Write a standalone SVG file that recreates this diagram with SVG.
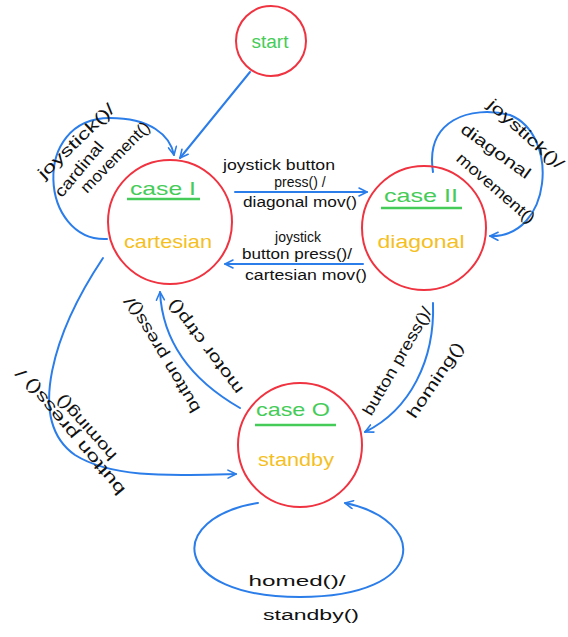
<svg xmlns="http://www.w3.org/2000/svg" width="568" height="637" viewBox="0 0 568 637">
<style>
.node{fill:none;stroke:#ef3340;stroke-width:2}
.edge{fill:none;stroke:#2b7de9;stroke-width:2;stroke-linecap:round}
.title{fill:#45cc58;font-family:"Liberation Sans",Arial,sans-serif;font-size:19px;text-anchor:middle}
.sub{fill:#f5bf1f;font-family:"Liberation Sans",Arial,sans-serif;font-size:19px;text-anchor:middle}
.ul{stroke:#45cc58;stroke-width:2.5}
.lbl{fill:#111;font-family:"Liberation Sans",Arial,sans-serif;font-size:14px;text-anchor:middle}
.big{font-size:16px}
</style>
<defs>
<marker id="arr" viewBox="0 0 10 10" refX="9" refY="5" markerWidth="10" markerHeight="10" markerUnits="userSpaceOnUse" orient="auto">
<path d="M1,1 L9,5 L1,9" fill="none" stroke="#2b7de9" stroke-width="1.6" stroke-linecap="round" stroke-linejoin="round"/>
</marker>
</defs>
<rect width="568" height="637" fill="#fff"/>
<g id="connectors">
<path class="edge" d="M250,72 L180,158" marker-end="url(#arr)"/>
<path class="edge" d="M107,239 C40,242 30,118 110,118 C150,118 170,135 174,155" marker-end="url(#arr)"/>
<path class="edge" d="M433,172 C425,120 470,105 510,115 C560,135 552,238 490,236" marker-end="url(#arr)"/>
<path class="edge" d="M235,192 L367,192" marker-end="url(#arr)"/>
<path class="edge" d="M363,264 L225,264" marker-end="url(#arr)"/>
<path class="edge" d="M433,303 C435,360 410,410 365,432" marker-end="url(#arr)"/>
<path class="edge" d="M240,408 C200,385 163,350 160,292" marker-end="url(#arr)"/>
<path class="edge" d="M103,258 C55,330 25,420 75,455 C115,480 180,475 236,474" marker-end="url(#arr)"/>
<path class="edge" d="M258,503 C165,518 170,597 300,597 C430,597 428,520 345,503" marker-end="url(#arr)"/>
</g>
<g id="edge-labels">
<text class="lbl" x="279" y="170" textLength="112" lengthAdjust="spacingAndGlyphs">joystick button</text>
<text class="lbl" x="300" y="187">press() /</text>
<text class="lbl" x="300" y="207" textLength="114" lengthAdjust="spacingAndGlyphs">diagonal mov()</text>
<text class="lbl" x="298" y="242">joystick</text>
<text class="lbl" x="297" y="259" textLength="110" lengthAdjust="spacingAndGlyphs">button press()/</text>
<text class="lbl" x="306" y="280" textLength="122" lengthAdjust="spacingAndGlyphs">cartesian mov()</text>
<text class="lbl big" transform="translate(76,141) rotate(-44)" dy="0.35em" textLength="100" lengthAdjust="spacingAndGlyphs">joystick()/</text>
<text class="lbl big" transform="translate(79,169) rotate(-50)" dy="0.35em" textLength="67" lengthAdjust="spacingAndGlyphs">cardinal</text>
<text class="lbl big" transform="translate(115,157) rotate(-46)" dy="0.35em" textLength="92" lengthAdjust="spacingAndGlyphs">movement()</text>
<text class="lbl big" transform="translate(526,134) rotate(42)" dy="0.35em" textLength="96" lengthAdjust="spacingAndGlyphs">joystick()/</text>
<text class="lbl big" transform="translate(496,151) rotate(36)" dy="0.35em" textLength="82" lengthAdjust="spacingAndGlyphs">diagonal</text>
<text class="lbl big" transform="translate(496,188) rotate(41)" dy="0.35em" textLength="98" lengthAdjust="spacingAndGlyphs">movement()</text>
<text class="lbl big" transform="translate(397,361) rotate(-60)" dy="0.35em" textLength="122" lengthAdjust="spacingAndGlyphs">button press()/</text>
<text class="lbl big" transform="translate(435,380) rotate(-56)" dy="0.35em" textLength="88" lengthAdjust="spacingAndGlyphs">homing()</text>
<text class="lbl big" transform="translate(205,347) rotate(-127)" dy="0.35em" textLength="114" lengthAdjust="spacingAndGlyphs">motor ctrp()</text>
<text class="lbl big" transform="translate(162,355) rotate(-121)" dy="0.35em" textLength="132" lengthAdjust="spacingAndGlyphs">button press()/</text>
<text class="lbl big" transform="translate(70,432) rotate(-130)" dy="0.35em" textLength="160" lengthAdjust="spacingAndGlyphs">button press() /</text>
<text class="lbl big" transform="translate(86,428) rotate(-132)" dy="0.35em" textLength="82" lengthAdjust="spacingAndGlyphs">homing()</text>
<text class="lbl" x="297" y="586" font-size="17" textLength="97" lengthAdjust="spacingAndGlyphs">homed()/</text>
<text class="lbl" x="311" y="620" font-size="17" textLength="96" lengthAdjust="spacingAndGlyphs">standby()</text>
</g>
<g id="start">
<circle class="node" cx="271" cy="41" r="35"/>
<text class="title" x="270" y="48">start</text>
</g>
<g id="case1">
<circle class="node" cx="170" cy="222" r="62"/>
<text class="title" x="163" y="195" textLength="66" lengthAdjust="spacingAndGlyphs">case I</text>
<line class="ul" x1="127" y1="199" x2="200" y2="199"/>
<text class="sub" x="168" y="248" textLength="88" lengthAdjust="spacingAndGlyphs">cartesian</text>
</g>
<g id="case2">
<circle class="node" cx="424" cy="228" r="62"/>
<text class="title" x="421" y="202" textLength="74" lengthAdjust="spacingAndGlyphs">case II</text>
<line class="ul" x1="381" y1="208" x2="462" y2="208"/>
<text class="sub" x="421" y="248" textLength="87" lengthAdjust="spacingAndGlyphs">diagonal</text>
</g>
<g id="case0">
<circle class="node" cx="300" cy="445" r="62"/>
<text class="title" x="293" y="416" textLength="74" lengthAdjust="spacingAndGlyphs">case O</text>
<line class="ul" x1="255" y1="425" x2="336" y2="425"/>
<text class="sub" x="296" y="466" textLength="76" lengthAdjust="spacingAndGlyphs">standby</text>
</g>
</svg>
